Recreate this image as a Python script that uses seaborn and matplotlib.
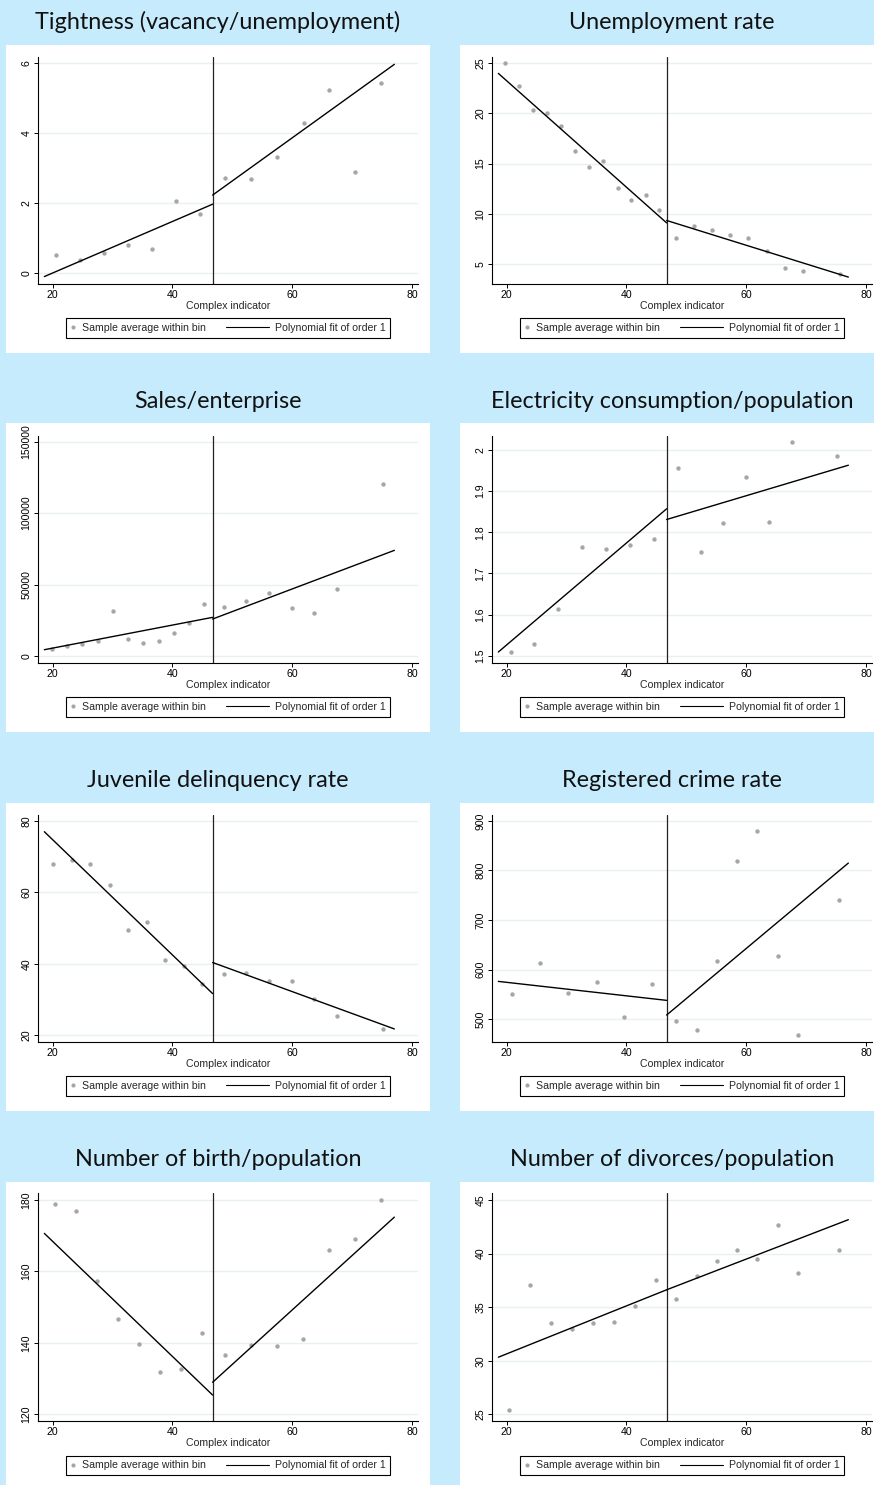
import numpy as np
import pandas as pd
import matplotlib
matplotlib.use("Agg")
import matplotlib.pyplot as plt
import seaborn as sns
from matplotlib.lines import Line2D
from matplotlib.legend_handler import HandlerLine2D
from matplotlib.patches import Rectangle

# ---------------- data ----------------
titles = ["Tightness (vacancy/unemployment)", "Unemployment rate",
          "Sales/enterprise", "Electricity consumption/population",
          "Juvenile delinquency rate", "Registered crime rate",
          "Number of birth/population", "Number of divorces/population"]

cutoff = 46.7
fit_x_start = 18.6
fit_x_end = 77.05
x_ticks = [20, 40, 60, 80]
x_label = "Complex indicator"
legend_labels = ["Sample average within bin", "Polynomial fit of order 1"]

tight_x = [20.56, 24.56, 28.6, 32.6, 36.6, 40.6, 44.6, 48.8, 53.1, 57.5, 61.9, 66.2, 70.5, 74.9]
tight_y = [0.52, 0.36, 0.57, 0.79, 0.69, 2.05, 1.68, 2.70, 2.67, 3.31, 4.27, 5.24, 2.89, 5.44]
tight_fit_left = [-0.11, 1.96]
tight_fit_right = [2.22, 5.96]
tight_yticks = [0, 2, 4, 6]
tight_yticklabels = ["0", "2", "4", "6"]
tight_ylim = (-0.314, 6.17)

unemp_x = [19.78, 22.1, 24.45, 26.8, 29.1, 31.46, 33.8, 36.15, 38.5, 40.8, 43.2, 45.5,
           48.2, 51.3, 54.3, 57.3, 60.3, 63.4, 66.4, 69.5, 75.6]
unemp_y = [24.97, 22.68, 20.3, 20.07, 18.77, 16.23, 14.67, 15.26, 12.52, 11.39, 11.89, 10.4,
           7.58, 8.81, 8.41, 7.85, 7.55, 6.26, 4.57, 4.30, 4.04]
unemp_fit_left = [23.97, 9.10]
unemp_fit_right = [9.34, 3.71]
unemp_yticks = [5, 10, 15, 20, 25]
unemp_yticklabels = ["5", "10", "15", "20", "25"]
unemp_ylim = (3.05, 25.6)

sales_x = [19.83, 22.45, 24.95, 27.5, 30.07, 32.58, 35.1, 37.7, 40.2, 42.76, 45.3,
           48.55, 52.3, 56.1, 59.96, 63.7, 67.5, 75.15]
sales_y = [4667, 7233, 8400, 10500, 31500, 11667, 9100, 10267, 16333, 23333, 36400,
           34300, 38500, 44100, 33830, 29870, 47130, 120160]
sales_fit_left = [4430, 27070]
sales_fit_right = [25900, 73960]
sales_yticks = [0, 50000, 100000, 150000]
sales_yticklabels = ["0", "50000", "100000", "150000"]
sales_ylim = (-4667, 154000)

elec_x = [20.67, 24.6, 28.6, 32.6, 36.6, 40.65, 44.65, 48.6, 52.4, 56.2, 60.0, 63.8, 67.6, 75.2]
elec_y = [1.509, 1.529, 1.613, 1.764, 1.759, 1.770, 1.783, 1.956, 1.753, 1.823, 1.934, 1.825, 2.019, 1.986]
elec_fit_left = [1.509, 1.857]
elec_fit_right = [1.831, 1.963]
elec_yticks = [1.5, 1.6, 1.7, 1.8, 1.9, 2.0]
elec_yticklabels = ["1.5", "1.6", "1.7", "1.8", "1.9", "2"]
elec_ylim = (1.483, 2.034)

juv_x = [20.1, 23.2, 26.3, 29.5, 32.6, 35.7, 38.8, 41.9, 45.0, 48.55, 52.3, 56.1, 59.96, 63.7, 67.5, 75.15]
juv_y = [67.87, 69.1, 67.87, 62.09, 49.5, 51.7, 41.1, 39.5, 34.5, 37.3, 37.4, 35.2, 35.1, 30.3, 25.5, 21.9]
juv_fit_left = [77.0, 31.7]
juv_fit_right = [40.4, 21.8]
juv_yticks = [20, 40, 60, 80]
juv_yticklabels = ["20", "40", "60", "80"]
juv_ylim = (18.23, 81.68)

crime_x = [20.95, 25.6, 30.3, 35.0, 39.65, 44.3, 48.3, 51.7, 55.1, 58.46, 61.86, 65.26, 68.65, 75.44]
crime_y = [549.8, 612.5, 553.2, 574.7, 503.4, 570.0, 496.6, 477.0, 616.5, 818.5, 879.8, 626.6, 467.0, 739.7]
crime_fit_left = [576, 537.7]
crime_fit_right = [508, 815]
crime_yticks = [500, 600, 700, 800, 900]
crime_yticklabels = ["500", "600", "700", "800", "900"]
crime_ylim = (454.2, 912.1)

birth_x = [20.33, 23.84, 27.35, 30.85, 34.36, 37.86, 41.37, 44.87, 48.77, 53.1, 57.45, 61.85, 66.19, 70.5, 74.9]
birth_y = [178.8, 176.8, 157.4, 146.7, 139.7, 131.9, 132.7, 142.9, 136.7, 139.4, 139.2, 141.2, 166.1, 169.0, 180.1]
birth_fit_left = [170.65, 125.4]
birth_fit_right = [128.97, 175.2]
birth_yticks = [120, 140, 160, 180]
birth_yticklabels = ["120", "140", "160", "180"]
birth_ylim = (118.13, 181.96)

div_x = [20.39, 23.9, 27.4, 30.9, 34.4, 37.9, 41.37, 44.9, 48.3, 51.7, 55.1, 58.46, 61.86, 65.26, 68.65, 75.44]
div_y = [25.4, 37.1, 33.55, 32.97, 33.5, 33.6, 35.1, 37.55, 35.78, 37.9, 39.3, 40.3, 39.45, 42.66, 38.15, 40.3]
div_fit_left = [30.33, 36.62]
div_fit_right = [36.62, 43.16]
div_yticks = [25, 30, 35, 40, 45]
div_yticklabels = ["25", "30", "35", "40", "45"]
div_ylim = (24.38, 45.65)

panels = [
    (tight_x, tight_y, tight_fit_left, tight_fit_right, tight_yticks, tight_yticklabels, tight_ylim),
    (unemp_x, unemp_y, unemp_fit_left, unemp_fit_right, unemp_yticks, unemp_yticklabels, unemp_ylim),
    (sales_x, sales_y, sales_fit_left, sales_fit_right, sales_yticks, sales_yticklabels, sales_ylim),
    (elec_x, elec_y, elec_fit_left, elec_fit_right, elec_yticks, elec_yticklabels, elec_ylim),
    (juv_x, juv_y, juv_fit_left, juv_fit_right, juv_yticks, juv_yticklabels, juv_ylim),
    (crime_x, crime_y, crime_fit_left, crime_fit_right, crime_yticks, crime_yticklabels, crime_ylim),
    (birth_x, birth_y, birth_fit_left, birth_fit_right, birth_yticks, birth_yticklabels, birth_ylim),
    (div_x, div_y, div_fit_left, div_fit_right, div_yticks, div_yticklabels, div_ylim),
]

# ---------------- style / layout ----------------
sns.set_style("ticks")
plt.rcParams["font.family"] = ["Liberation Sans", "DejaVu Sans"]

W, H, DPI = 874, 1485, 100
BG = "#C6EBFC"
GRID = "#E8F0F1"
DOT = "#A6A6A6"
SMALL = 7.6

fig = plt.figure(figsize=(W / DPI, H / DPI), dpi=DPI)
fig.patch.set_facecolor(BG)

col_axes_left = [37.7, 491.7]
axes_width = 380.3
col_panel = [(6, 424), (460, 424)]
row_axes = [(57, 283.7), (436, 662.7), (815, 1041.7), (1193, 1421)]
row_panel = [(45, 353), (423, 732), (803, 1111), (1182, 1490)]
row_title_base = [29.3, 407.7, 786.7, 1166.0]


class LongLineHandler(HandlerLine2D):
    def __init__(self, extra, **kw):
        super().__init__(**kw)
        self.extra = extra

    def get_xdata(self, legend, xdescent, ydescent, width, height, fontsize):
        return [-xdescent - self.extra * fontsize, width], [0.5 * width - 0.5 * xdescent]


for i, (px, py, fl, fr, yt, ytl, yl) in enumerate(panels):
    r, c = divmod(i, 2)
    # white panel
    pl, pw = col_panel[c]
    pt, pb = row_panel[r]
    fig.add_artist(Rectangle((pl / W, 1 - pb / H), pw / W, (pb - pt) / H,
                             transform=fig.transFigure, facecolor="white",
                             edgecolor="none", zorder=0))
    # title
    fig.text((pl + pw / 2) / W, 1 - row_title_base[r] / H, titles[i],
             ha="center", va="baseline", fontsize=16.8,
             family=["Lato", "DejaVu Sans"], color="#111111")

    top, bot = row_axes[r]
    ax = fig.add_axes([col_axes_left[c] / W, 1 - bot / H, axes_width / W, (bot - top) / H])
    ax.set_facecolor("white")

    df = pd.DataFrame({"x": px, "y": py})
    sns.scatterplot(data=df, x="x", y="y", ax=ax, color=DOT, s=10, linewidth=0, zorder=3)
    dl = pd.DataFrame({"x": [fit_x_start, cutoff], "y": fl})
    dr = pd.DataFrame({"x": [cutoff, fit_x_end], "y": fr})
    sns.lineplot(data=dl, x="x", y="y", ax=ax, color="black", lw=1.0, zorder=4)
    sns.lineplot(data=dr, x="x", y="y", ax=ax, color="black", lw=1.0, zorder=4)
    ax.axvline(cutoff, color="#222222", lw=0.9, zorder=2)

    ax.set_xlim(17.49, 81.0)
    ax.set_ylim(*yl)
    ax.set_xticks(x_ticks)
    ax.set_xticklabels([str(v) for v in x_ticks])
    ax.set_yticks(yt)
    ax.set_yticklabels(ytl, rotation=90, va="center")
    ax.yaxis.grid(True, color=GRID, lw=1.0, zorder=0)
    ax.xaxis.grid(False)
    ax.set_axisbelow(True)
    for s in ["top", "right"]:
        ax.spines[s].set_visible(False)
    for s in ["left", "bottom"]:
        ax.spines[s].set_color("black")
        ax.spines[s].set_linewidth(0.8)
    ax.tick_params(axis="both", direction="out", length=3, width=0.7,
                   labelsize=SMALL, colors="black", pad=1.5)
    ax.set_ylabel("")
    ax.set_xlabel(x_label, fontsize=SMALL)
    ax.xaxis.set_label_coords(0.5, -22.0 / (bot - top))
    ax.xaxis.label.set_va("center")

    h1 = Line2D([], [], ls="none", marker="o", markersize=3.0, color=DOT, markeredgewidth=0)
    h2 = Line2D([], [], color="black", lw=0.8)
    leg = ax.legend([h1, h2], legend_labels, ncol=2, loc="upper center",
                    bbox_to_anchor=((col_axes_left[c] + axes_width / 2) / W, 1 - (bot + 34.5) / H),
                    bbox_transform=fig.transFigure, fontsize=SMALL, frameon=True,
                    fancybox=False, shadow=False, borderpad=0.45, borderaxespad=0,
                    handlelength=0.5, handletextpad=0.55, columnspacing=5.5,
                    handler_map={h2: LongLineHandler(3.5)})
    leg.get_frame().set_edgecolor("black")
    leg.get_frame().set_linewidth(0.8)
    leg.get_frame().set_facecolor("white")
    leg.get_frame().set_alpha(1)

fig.savefig("out.png", dpi=DPI, facecolor=BG)
